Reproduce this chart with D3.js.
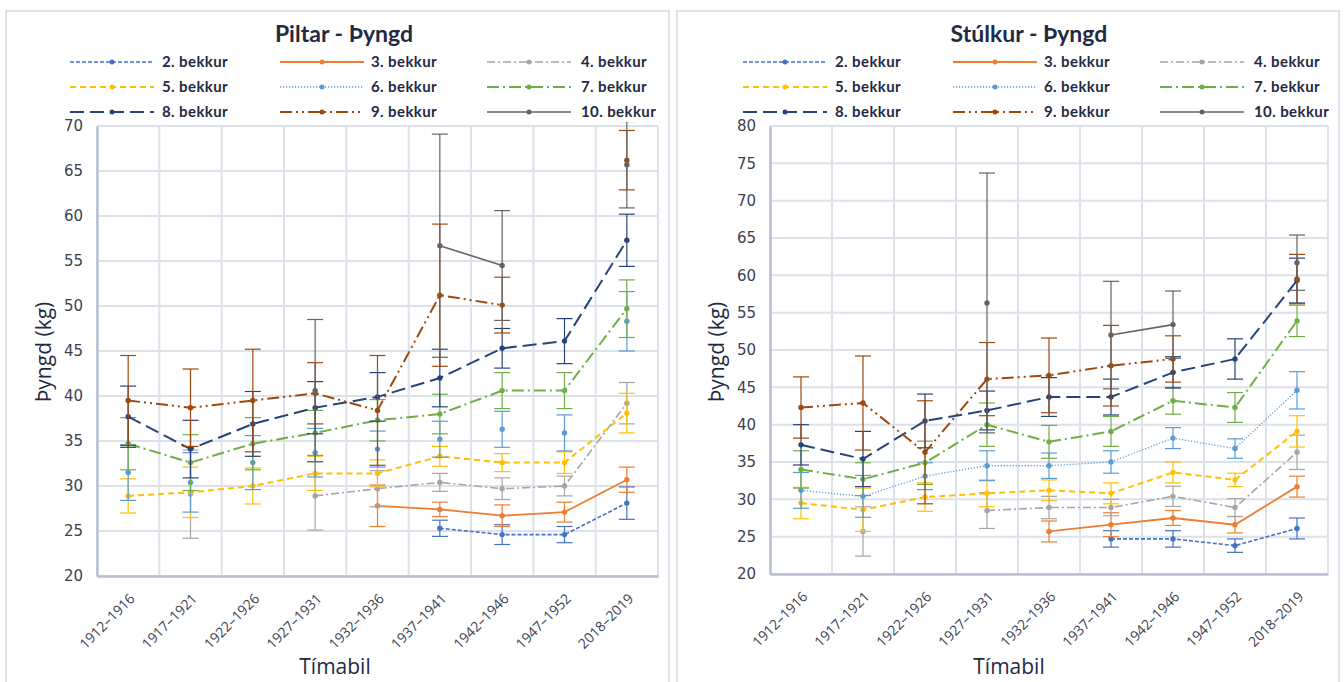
<!DOCTYPE html>
<html>
<head>
<meta charset="utf-8">
<script src="https://cdn.jsdelivr.net/npm/d3@7"></script>
<style>
  body { margin: 0; background: #fff; }
  svg { display: block; }
</style>
</head>
<body>
<div id="chart"></div>
<script>
// data
const periods = ['1912–1916', '1917–1921', '1922–1926', '1927–1931', '1932–1936',
  '1937–1941', '1942–1946', '1947–1952', '2018–2019'];
const grades = ['2. bekkur', '3. bekkur', '4. bekkur', '5. bekkur', '6. bekkur',
  '7. bekkur', '8. bekkur', '9. bekkur', '10. bekkur'];
const yTicksPiltar = [20, 25, 30, 35, 40, 45, 50, 55, 60, 65, 70];
const yTicksStulkur = [20, 25, 30, 35, 40, 45, 50, 55, 60, 65, 70, 75, 80];

// mean weight (kg) per grade, one row per grade, one column per period
const piltarMeans = [
  [null, null, null, null, null, 25.3, 24.6, 24.6, 28.1],
  [null, null, null, null, 27.8, 27.4, 26.7, 27.1, 30.7],
  [null, 29.1, null, 28.9, 29.7, 30.4, 29.7, 30.0, 39.2],
  [28.9, 29.3, 30.0, 31.4, 31.4, 33.3, 32.6, 32.6, 38.1],
  [31.5, 30.4, 32.6, 33.7, 34.1, 35.2, 36.3, 35.9, 48.3],
  [34.7, 32.6, 34.7, 35.9, 37.3, 38.0, 40.6, 40.6, 49.7],
  [37.7, 34.1, 36.9, 38.7, 39.9, 42.0, 45.3, 46.1, 57.3],
  [39.5, 38.7, 39.5, 40.3, 38.4, 51.2, 50.1, null, 66.2],
  [null, null, null, 40.6, null, 56.7, 54.5, null, 65.7]
];
// standard deviation (error bars)
const piltarSds = [
  [null, null, null, null, null, 0.9, 1.1, 0.9, 1.8],
  [null, null, null, null, 2.3, 0.8, 1.2, 1.1, 1.4],
  [null, 4.9, null, 3.8, 2.0, 1.0, 1.2, 1.1, 2.3],
  [1.9, 2.8, 2.0, 1.9, 1.5, 1.1, 1.0, 1.2, 2.2],
  [3.1, 3.3, 3.0, 2.7, 2.0, 2.0, 2.0, 2.0, 3.3],
  [2.9, 3.1, 2.9, 2.5, 2.3, 2.2, 2.0, 2.0, 3.2],
  [3.4, 3.2, 3.6, 2.9, 2.7, 3.2, 2.2, 2.5, 2.9],
  [5.0, 4.3, 5.7, 3.4, 6.1, 7.9, 3.1, null, 3.3],
  [null, null, null, 7.9, null, 12.4, 6.1, null, 4.8]
];

const stulkurMeans = [
  [null, null, null, null, null, 24.7, 24.7, 23.8, 26.1],
  [null, null, null, null, 25.7, 26.6, 27.5, 26.6, 31.7],
  [null, 25.7, null, 28.5, 28.9, 28.9, 30.4, 28.9, 36.3],
  [29.5, 28.6, 30.3, 30.8, 31.2, 30.8, 33.6, 32.6, 39.1],
  [31.2, 30.4, 33.1, 34.5, 34.5, 35.0, 38.2, 36.8, 44.6],
  [34.0, 32.7, 34.9, 40.0, 37.7, 39.1, 43.2, 42.3, 53.9],
  [37.3, 35.4, 40.5, 41.9, 43.7, 43.7, 47.0, 48.8, 59.3],
  [42.3, 42.9, 36.3, 46.1, 46.6, 47.9, 48.8, null, 59.5],
  [null, null, null, 56.3, null, 52.0, 53.4, null, 61.7]
];
const stulkurSds = [
  [null, null, null, null, null, 1.1, 1.1, 0.9, 1.4],
  [null, null, null, null, 1.4, 1.6, 1.0, 1.1, 1.4],
  [null, 3.3, null, 2.4, 1.5, 1.1, 1.35, 1.2, 2.3],
  [2.1, 2.9, 1.9, 1.8, 1.4, 1.4, 1.4, 0.9, 2.1],
  [2.4, 2.8, 1.8, 2.0, 1.7, 1.5, 1.4, 1.3, 2.5],
  [2.5, 2.2, 2.9, 2.9, 2.2, 2.0, 1.8, 2.0, 2.1],
  [2.7, 3.7, 3.6, 2.6, 2.6, 2.4, 2.1, 2.7, 3.0],
  [4.1, 6.3, 6.9, 4.9, 5.0, 5.4, 3.1, null, 3.3],
  [null, null, null, 17.4, null, 7.2, 4.5, null, 3.7]
];

// styles
const gradeColors = ['#4472c4', '#ed7d31', '#a5a5a5', '#ffc000', '#5b9bd5',
  '#70ad47', '#264478', '#9e480e', '#636363'];
const gradeDashes = ['4,2', null, '8,3,2,3', '6,4', '1.2,1.8', '12,4,2,4',
  '14,6', '12,4,2,4,2,4', null];
const gradeWidths = [1.6, 1.8, 1.6, 2, 1.3, 2, 2, 2, 1.6];

const textColor = '#1f2a44';
const tickColor = '#3b4252';

const $svg = d3.select('#chart').append('svg')
  .attr('width', 1344)
  .attr('height', 682);

function drawPanel(p) {
  const xScale = d3.scaleBand().domain(periods).range([p.left, p.right]);
  const yScale = d3.scaleLinear().domain([20, p.yMax]).range([p.bottom, p.top]);

  const $g = $svg.append('g');

  $g.append('rect')
    .attr('x', p.boxX).attr('y', 11)
    .attr('width', p.boxW).attr('height', 690)
    .attr('fill', '#fff')
    .attr('stroke', '#d6d9df')
    .attr('stroke-width', 1.5);

  // title
  $g.append('text')
    .attr('x', p.titleX).attr('y', 42)
    .attr('text-anchor', 'middle')
    .style('font-family', 'Lato, sans-serif')
    .style('font-weight', 'bold')
    .style('font-size', '23px')
    .style('fill', textColor)
    .text(p.title);

  // legend
  const colX = [70, 280, 487];
  const labelX = [162, 371, 581];
  const rowY = [62, 87, 112];
  const $legend = $g.selectAll('.legend-item')
    .data(grades)
    .enter()
    .append('g')
    .attr('transform', (d, i) => `translate(${p.offset}, ${rowY[Math.floor(i / 3)]})`);

  $legend.append('line')
    .attr('x1', (d, i) => colX[i % 3])
    .attr('x2', (d, i) => colX[i % 3] + 84)
    .attr('stroke', (d, i) => gradeColors[i])
    .attr('stroke-width', (d, i) => gradeWidths[i])
    .attr('stroke-dasharray', (d, i) => gradeDashes[i]);

  $legend.append('circle')
    .attr('cx', (d, i) => colX[i % 3] + 42)
    .attr('r', 2.5)
    .attr('fill', (d, i) => gradeColors[i]);

  $legend.append('text')
    .attr('x', (d, i) => labelX[i % 3])
    .attr('dy', '0.35em')
    .style('font-family', 'Lato, sans-serif')
    .style('font-weight', 'bold')
    .style('font-size', '15px')
    .style('letter-spacing', '0.4px')
    .style('fill', textColor)
    .text(d => d);

  // grid
  $g.append('g')
    .selectAll('line')
    .data(p.yTicks)
    .enter()
    .append('line')
    .attr('x1', p.left).attr('x2', p.right)
    .attr('y1', d => yScale(d)).attr('y2', d => yScale(d))
    .attr('stroke', '#dde1ea')
    .attr('stroke-width', 2);

  $g.append('g')
    .selectAll('line')
    .data(periods.map(d => xScale(d)).concat([xScale.range()[1]]))
    .enter()
    .append('line')
    .attr('x1', d => d).attr('x2', d => d)
    .attr('y1', p.top).attr('y2', p.bottom)
    .attr('stroke', '#dde1ea')
    .attr('stroke-width', 2);

  // axes
  const $yAxis = $g.append('g')
    .attr('transform', `translate(${p.left}, 0)`)
    .call(d3.axisLeft(yScale).tickValues(p.yTicks).tickSize(0).tickPadding(14));
  $yAxis.select('.domain').attr('stroke', '#b7bfcf').attr('stroke-width', 2.5);
  $yAxis.selectAll('text')
    .style('font-family', '"DejaVu Sans", sans-serif')
    .style('font-size', '15px')
    .style('fill', tickColor);

  const $xAxis = $g.append('g')
    .attr('transform', `translate(0, ${p.bottom})`)
    .call(d3.axisBottom(xScale).tickSize(0).tickSizeOuter(0));
  $xAxis.select('.domain').attr('stroke', '#b7bfcf').attr('stroke-width', 2.5);
  $xAxis.selectAll('text')
    .attr('x', 0).attr('y', 0).attr('dy', '0.35em')
    .attr('text-anchor', 'end')
    .attr('transform', 'translate(4, 20) rotate(-45)')
    .style('font-family', '"Open Sans", sans-serif')
    .style('font-size', '14px')
    .style('fill', tickColor);

  // axis titles
  $g.append('text')
    .attr('transform', `translate(${p.yTitleX}, 352) rotate(-90)`)
    .attr('text-anchor', 'middle')
    .attr('dy', '0.35em')
    .style('font-family', '"Open Sans", sans-serif')
    .style('font-size', '21px')
    .style('fill', textColor)
    .text('Þyngd (kg)');

  $g.append('text')
    .attr('x', p.xTitleX).attr('y', 674)
    .attr('text-anchor', 'middle')
    .style('font-family', '"Open Sans", sans-serif')
    .style('font-size', '21px')
    .style('fill', textColor)
    .text('Tímabil');

  // series
  const clipId = 'clip-' + p.offset;
  $svg.append('clipPath').attr('id', clipId)
    .append('rect')
    .attr('x', p.left).attr('y', p.top - 4)
    .attr('width', p.right - p.left).attr('height', p.bottom - p.top + 4);

  const $series = $g.append('g').attr('clip-path', `url(#${clipId})`);
  const cx = d => xScale(d.period) + xScale.bandwidth() / 2;
  const line = d3.line()
    .defined(d => d.mean != null)
    .x(cx)
    .y(d => yScale(d.mean));
  const cap = 8;

  grades.forEach((grade, gi) => {
    const pts = periods.map((period, i) => ({
      period: period,
      mean: p.means[gi][i],
      sd: p.sds[gi][i]
    }));
    const valid = pts.filter(d => d.mean != null);
    const color = gradeColors[gi];
    const $s = $series.append('g');

    // error bars
    const $err = $s.selectAll('.err')
      .data(valid)
      .enter()
      .append('g')
      .attr('stroke', color)
      .attr('stroke-width', 1.2);
    $err.append('line')
      .attr('x1', cx).attr('x2', cx)
      .attr('y1', d => yScale(d.mean - d.sd))
      .attr('y2', d => yScale(d.mean + d.sd));
    $err.append('line')
      .attr('x1', d => cx(d) - cap).attr('x2', d => cx(d) + cap)
      .attr('y1', d => yScale(d.mean + d.sd))
      .attr('y2', d => yScale(d.mean + d.sd));
    $err.append('line')
      .attr('x1', d => cx(d) - cap).attr('x2', d => cx(d) + cap)
      .attr('y1', d => yScale(d.mean - d.sd))
      .attr('y2', d => yScale(d.mean - d.sd));

    if (p.hideLines.indexOf(grade) < 0) {
      $s.append('path')
        .datum(pts)
        .attr('d', line)
        .attr('fill', 'none')
        .attr('stroke', color)
        .attr('stroke-width', gradeWidths[gi])
        .attr('stroke-dasharray', gradeDashes[gi]);
    }

    $s.selectAll('.dot')
      .data(valid)
      .enter()
      .append('circle')
      .attr('cx', cx)
      .attr('cy', d => yScale(d.mean))
      .attr('r', 2.7)
      .attr('fill', color);
  });
}

drawPanel({
  offset: 0, boxX: 6, boxW: 663,
  left: 97, right: 658, top: 126, bottom: 576, yMax: 70,
  yTicks: yTicksPiltar,
  title: 'Piltar - Þyngd', titleX: 344,
  yTitleX: 44, xTitleX: 335,
  means: piltarMeans, sds: piltarSds,
  hideLines: ['6. bekkur']
});

drawPanel({
  offset: 673, boxX: 677, boxW: 662,
  left: 770, right: 1328, top: 126, bottom: 574, yMax: 80,
  yTicks: yTicksStulkur,
  title: 'Stúlkur - Þyngd', titleX: 1029,
  yTitleX: 717, xTitleX: 1009,
  means: stulkurMeans, sds: stulkurSds,
  hideLines: []
});
</script>
</body>
</html>
